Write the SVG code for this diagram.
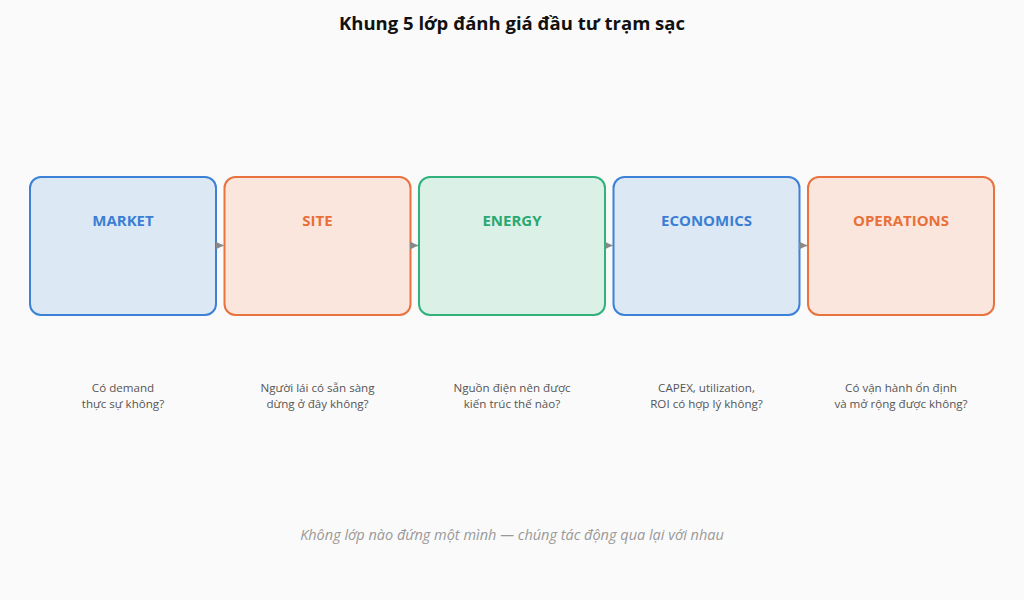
<svg xmlns="http://www.w3.org/2000/svg" width="1024" height="600" viewBox="0 0 1024 600">
<defs>
<marker id="arr" viewBox="0 0 10 10" refX="10" refY="5" markerWidth="8" markerHeight="8" markerUnits="userSpaceOnUse" orient="auto">
<path d="M0,0 L10,5 L0,10 z" fill="#888"/>
</marker>
<style>
text{font-family:"Open Sans","Noto Sans","DejaVu Sans",sans-serif;text-anchor:middle}
.title{font-size:18.5px;font-weight:bold;fill:#111}
.lbl{font-size:15px;font-weight:bold}
.desc{font-size:11.6px;fill:#555}
.foot{font-size:14.5px;font-style:italic;fill:#999}
.blue rect{fill:#dde8f5;stroke:#3b82d6;stroke-width:2}
.blue text{fill:#3b7fd4}
.orange rect{fill:#fbe6dd;stroke:#e8733f;stroke-width:2}
.orange text{fill:#e8703a}
.green rect{fill:#dbf0e6;stroke:#30b27c;stroke-width:2}
.green text{fill:#2aa872}
.conn line{stroke:#888;stroke-width:1.5}
</style>
</defs>
<rect width="1024" height="600" fill="#fafafa"/>
<text class="title" x="512" y="30">Khung 5 lớp đánh giá đầu tư trạm sạc</text>
<g id="market" class="blue"><rect x="30" y="177" width="186" height="138" rx="11"/><text class="lbl" x="123" y="226">MARKET</text></g>
<g id="site" class="orange"><rect x="224.5" y="177" width="186" height="138" rx="11"/><text class="lbl" x="317.5" y="226">SITE</text></g>
<g id="energy" class="green"><rect x="419" y="177" width="186" height="138" rx="11"/><text class="lbl" x="512" y="226">ENERGY</text></g>
<g id="economics" class="blue"><rect x="613.5" y="177" width="186" height="138" rx="11"/><text class="lbl" x="706.5" y="226">ECONOMICS</text></g>
<g id="operations" class="orange"><rect x="808" y="177" width="186" height="138" rx="11"/><text class="lbl" x="901" y="226">OPERATIONS</text></g>
<g id="connectors" class="conn">
<line x1="216" y1="245.5" x2="223.5" y2="245.5" marker-end="url(#arr)"/>
<line x1="410.5" y1="245.5" x2="418" y2="245.5" marker-end="url(#arr)"/>
<line x1="605" y1="245.5" x2="612.5" y2="245.5" marker-end="url(#arr)"/>
<line x1="799.5" y1="245.5" x2="807" y2="245.5" marker-end="url(#arr)"/>
</g>
<g id="descriptions">
<text class="desc" x="123" y="392">Có demand</text><text class="desc" x="123" y="408">thực sự không?</text>
<text class="desc" x="317.5" y="392">Người lái có sẵn sàng</text><text class="desc" x="317.5" y="408">dừng ở đây không?</text>
<text class="desc" x="512" y="392">Nguồn điện nên được</text><text class="desc" x="512" y="408">kiến trúc thế nào?</text>
<text class="desc" x="706.5" y="392">CAPEX, utilization,</text><text class="desc" x="706.5" y="408">ROI có hợp lý không?</text>
<text class="desc" x="901" y="392">Có vận hành ổn định</text><text class="desc" x="901" y="408">và mở rộng được không?</text>
</g>
<text class="foot" x="512" y="540">Không lớp nào đứng một mình — chúng tác động qua lại với nhau</text>
</svg>
